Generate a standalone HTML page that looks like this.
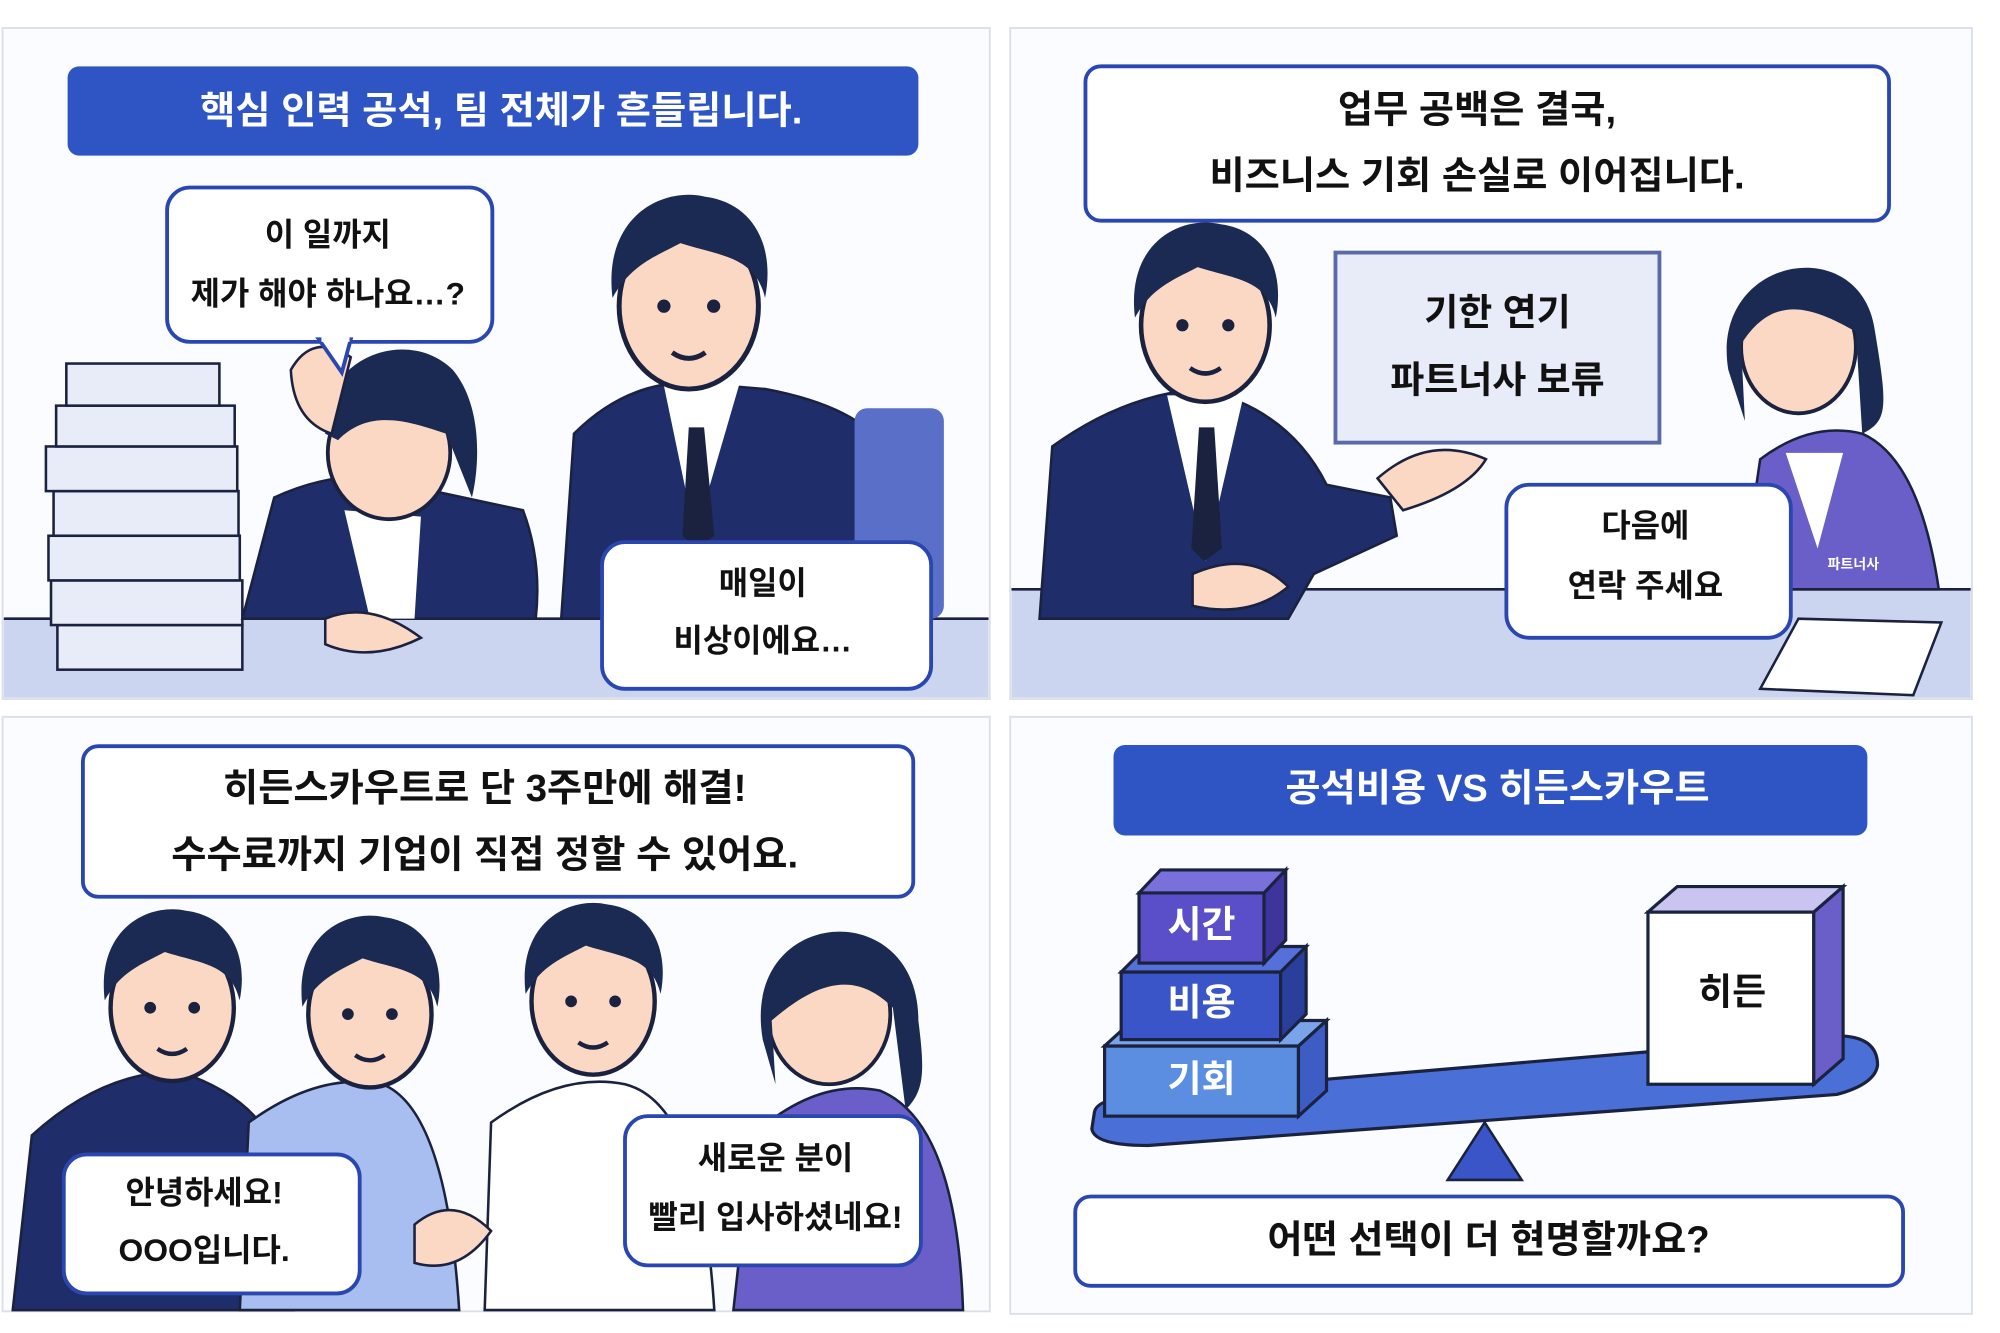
<!DOCTYPE html>
<html><head><meta charset="utf-8">
<style>
html,body{margin:0;padding:0;background:#fff;width:2000px;height:1333px;overflow:hidden}
svg{display:block}
text{font-family:"Liberation Sans","Noto Sans CJK KR",sans-serif;font-weight:bold;text-anchor:middle;dominant-baseline:middle}
</style></head><body>
<svg width="2000" height="1333" viewBox="0 0 1568 1045" preserveAspectRatio="none" xmlns="http://www.w3.org/2000/svg">
<defs>
<g id="head">
<ellipse cx="0" cy="0" rx="42" ry="50" fill="#fbd8c4" stroke="#1b2240" stroke-width="3"/>
<path d="M-46,-5 C-52,-55 -15,-72 10,-66 C40,-62 52,-35 46,-5 C40,-30 20,-30 -5,-38 C-20,-30 -35,-25 -46,-5Z" fill="#1b2a52"/>
<circle cx="-15" cy="0" r="4" fill="#1b2240"/><circle cx="15" cy="0" r="4" fill="#1b2240"/>
<path d="M-10,28 Q0,35 10,28" stroke="#1b2240" stroke-width="3" fill="none"/>
</g>
</defs>
<rect width="1568" height="1045" fill="#fff"/>
<rect x="2" y="22" width="774" height="526" fill="#fbfcff" stroke="#dcdfe8" stroke-width="1.5"/>
<rect x="792" y="22" width="754" height="526" fill="#fbfcff" stroke="#dcdfe8" stroke-width="1.5"/>
<rect x="2" y="562" width="774" height="466" fill="#fbfcff" stroke="#dcdfe8" stroke-width="1.5"/>
<rect x="792" y="562" width="754" height="468" fill="#fbfcff" stroke="#dcdfe8" stroke-width="1.5"/>

<!-- TL -->
<rect x="3" y="485" width="772" height="62" fill="#cbd5ef"/>
<line x1="3" y1="485" x2="775" y2="485" stroke="#1b2240" stroke-width="2"/>
<g fill="#e7ecf8" stroke="#1b2240" stroke-width="2">
<rect x="45" y="490" width="145" height="35"/><rect x="40" y="455" width="150" height="35"/><rect x="38" y="420" width="150" height="35"/><rect x="42" y="385" width="145" height="35"/><rect x="36" y="350" width="150" height="35"/><rect x="44" y="318" width="140" height="32"/><rect x="52" y="285" width="120" height="33"/>
</g>
<rect x="53" y="52" width="667" height="70" rx="9" fill="#2f55c4"/>
<text x="393" y="89" font-size="30" fill="#fff">핵심 인력 공석, 팀 전체가 흔들립니다.</text>
<path d="M190,485 L215,390 Q280,360 340,385 L410,400 Q425,440 420,485Z" fill="#1f2d6b" stroke="#1b2240" stroke-width="2"/>
<path d="M270,400 L290,485 L325,485 L330,405Z" fill="#fff"/>
<ellipse cx="305" cy="355" rx="48" ry="52" fill="#fbd8c4" stroke="#1b2240" stroke-width="3"/>
<path d="M255,340 C250,280 320,255 355,290 C380,320 375,370 370,390 L350,340 C320,330 290,320 265,345Z" fill="#1b2a52"/>
<path d="M228,290 Q245,260 275,280 L260,340 Q230,330 228,290Z" fill="#fbd8c4" stroke="#1b2240" stroke-width="2"/>
<path d="M255,485 Q290,470 330,500 Q290,520 255,505Z" fill="#fbd8c4" stroke="#1b2240" stroke-width="2"/>
<path d="M440,485 L450,340 Q490,300 540,300 L600,305 Q680,320 700,360 L720,485Z" fill="#1f2d6b" stroke="#1b2240" stroke-width="2"/>
<rect x="670" y="320" width="70" height="165" rx="10" fill="#5a6fc8"/>
<path d="M520,300 L545,420 L580,300Z" fill="#fff"/>
<path d="M540,335 L552,335 L560,420 L546,430 L535,420Z" fill="#1b2240"/>
<use href="#head" transform="translate(540,240) scale(1.3)"/>
<rect x="131" y="147" width="255" height="121" rx="18" fill="#fff" stroke="#2a46b0" stroke-width="3"/>
<path d="M250,266 L268,292 L275,266Z" fill="#fff" stroke="#2a46b0" stroke-width="3"/>
<rect x="252" y="262" width="22" height="6" fill="#fff"/>
<text x="257" y="186" font-size="25" fill="#111">이 일까지</text>
<text x="257" y="232" font-size="25" fill="#111">제가 해야 하나요…?</text>
<rect x="472" y="425" width="258" height="115" rx="18" fill="#fff" stroke="#2a46b0" stroke-width="3"/>
<text x="598" y="459" font-size="25" fill="#111">매일이</text>
<text x="598" y="504" font-size="25" fill="#111">비상이에요…</text>

<!-- TR -->
<rect x="793" y="462" width="752" height="85" fill="#cbd5ef"/>
<line x1="793" y1="462" x2="1545" y2="462" stroke="#1b2240" stroke-width="2"/>
<path d="M1380,540 L1410,485 L1522,488 L1500,545Z" fill="#fff" stroke="#1b2240" stroke-width="2"/>
<rect x="851" y="52" width="630" height="121" rx="12" fill="#fff" stroke="#2a46b0" stroke-width="3"/>
<text x="1158" y="88" font-size="30" fill="#111">업무 공백은 결국,</text>
<text x="1158" y="140" font-size="30" fill="#111">비즈니스 기회 손실로 이어집니다.</text>
<rect x="1047" y="198" width="254" height="149" fill="#e8ebf8" stroke="#5a6aa8" stroke-width="3"/>
<text x="1174" y="247" font-size="29" fill="#111">기한 연기</text>
<text x="1174" y="300" font-size="29" fill="#111">파트너사 보류</text>
<path d="M815,485 L825,350 Q880,310 940,305 Q1010,320 1040,380 L1090,390 L1095,420 L1030,450 L1010,485Z" fill="#1f2d6b" stroke="#1b2240" stroke-width="2"/>
<path d="M915,310 L945,440 L975,310Z" fill="#fff"/>
<path d="M940,335 L952,335 L958,430 L944,440 L934,430Z" fill="#1b2240"/>
<path d="M1080,375 Q1120,340 1165,360 Q1150,385 1100,400Z" fill="#fbd8c4" stroke="#1b2240" stroke-width="2"/>
<path d="M935,450 Q980,430 1010,460 Q980,485 935,475Z" fill="#fbd8c4" stroke="#1b2240" stroke-width="2"/>
<use href="#head" transform="translate(945,255) scale(1.2)"/>
<path d="M1365,462 L1380,360 Q1420,330 1460,340 Q1505,360 1520,462Z" fill="#6a5fc8" stroke="#1b2240" stroke-width="2"/>
<path d="M1400,355 L1425,430 L1445,355Z" fill="#fff"/>
<ellipse cx="1410" cy="272" rx="45" ry="52" fill="#fbd8c4" stroke="#1b2240" stroke-width="3"/>
<path d="M1355,290 C1340,200 1460,180 1470,260 C1480,320 1480,330 1460,340 L1455,260 C1420,240 1390,230 1365,270 L1368,330Z" fill="#1b2a52"/>
<text x="1453" y="443" font-size="11" fill="#fff">파트너사</text>
<rect x="1181" y="380" width="223" height="120" rx="18" fill="#fff" stroke="#2a46b0" stroke-width="3"/>
<text x="1290" y="414" font-size="25" fill="#111">다음에</text>
<text x="1290" y="461" font-size="25" fill="#111">연락 주세요</text>

<!-- BL -->
<rect x="65" y="585" width="651" height="118" rx="12" fill="#fff" stroke="#2a46b0" stroke-width="3"/>
<text x="380" y="620" font-size="30" fill="#111">히든스카우트로 단 3주만에 해결!</text>
<text x="380" y="672" font-size="30" fill="#111">수수료까지 기업이 직접 정할 수 있어요.</text>
<path d="M10,1027 L25,890 Q80,840 140,840 Q200,860 215,900 L230,1027Z" fill="#1f2d6b" stroke="#1b2240" stroke-width="2"/>
<path d="M188,1027 L195,880 Q250,840 300,850 Q350,870 360,1027Z" fill="#a8bdf0" stroke="#1b2240" stroke-width="2"/>
<path d="M380,1027 L385,880 Q440,840 490,850 Q550,865 560,1027Z" fill="#fff" stroke="#1b2240" stroke-width="2"/>
<path d="M575,1027 L590,890 Q640,845 690,855 Q750,880 755,1027Z" fill="#6a5fc8" stroke="#1b2240" stroke-width="2"/>
<path d="M325,960 Q355,935 385,965 Q360,1000 325,990Z" fill="#fbd8c4" stroke="#1b2240" stroke-width="2"/>
<use href="#head" transform="translate(135,790) scale(1.15)"/>
<use href="#head" transform="translate(290,795) scale(1.15)"/>
<use href="#head" transform="translate(465,785) scale(1.15)"/>
<ellipse cx="650" cy="795" rx="48" ry="55" fill="#fbd8c4" stroke="#1b2240" stroke-width="3"/>
<path d="M598,815 C580,710 720,700 720,800 C725,840 725,855 710,870 L700,790 C670,760 640,770 605,800 L608,850Z" fill="#1b2a52"/>
<rect x="50" y="905" width="232" height="109" rx="18" fill="#fff" stroke="#2a46b0" stroke-width="3"/>
<text x="160" y="937" font-size="25" fill="#111">안녕하세요!</text>
<text x="160" y="982" font-size="25" fill="#111">OOO입니다.</text>
<rect x="490" y="875" width="232" height="117" rx="18" fill="#fff" stroke="#2a46b0" stroke-width="3"/>
<text x="608" y="910" font-size="25" fill="#111">새로운 분이</text>
<text x="608" y="956" font-size="25" fill="#111">빨리 입사하셨네요!</text>

<!-- BR -->
<rect x="873" y="584" width="591" height="71" rx="9" fill="#2f55c4"/>
<text x="1174" y="620" font-size="30" fill="#fff">공석비용 VS 히든스카우트</text>
<path d="M858,872 Q860,860 900,858 L1440,812 Q1472,812 1472,835 Q1470,850 1440,858 L900,898 Q858,898 856,885Z" fill="#4a6fd6" stroke="#1b2240" stroke-width="2.5"/>
<path d="M1135,925 L1164,880 L1193,925Z" fill="#3a55c8" stroke="#1b2240" stroke-width="2"/>
<g stroke="#1b2240" stroke-width="2.5">
<rect x="866" y="820" width="152" height="55" fill="#5b8ee0"/><path d="M1018,820 L1040,800 L1040,855 L1018,875Z" fill="#3d5cc4"/><path d="M866,820 L888,800 L1040,800 L1018,820Z" fill="#7aa4ea"/>
<rect x="879" y="762" width="125" height="53" fill="#3a55c8"/><path d="M1004,762 L1024,742 L1024,795 L1004,815Z" fill="#2a3f9c"/><path d="M879,762 L899,742 L1024,742 L1004,762Z" fill="#5570d8"/>
<rect x="893" y="700" width="98" height="55" fill="#5a4fc8"/><path d="M991,700 L1008,682 L1008,737 L991,755Z" fill="#3e349c"/><path d="M893,700 L910,682 L1008,682 L991,700Z" fill="#7a70dc"/>
<rect x="1292" y="715" width="130" height="135" fill="#fff"/><path d="M1422,715 L1445,695 L1445,830 L1422,850Z" fill="#6a5fc8"/><path d="M1292,715 L1315,695 L1445,695 L1422,715Z" fill="#c9c4f0"/>
</g>
<text x="942" y="727" font-size="29" fill="#fff">시간</text>
<text x="942" y="788" font-size="29" fill="#fff">비용</text>
<text x="942" y="848" font-size="29" fill="#fff">기회</text>
<text x="1358" y="780" font-size="29" fill="#111">히든</text>
<rect x="843" y="938" width="649" height="70" rx="12" fill="#fff" stroke="#2a46b0" stroke-width="3"/>
<text x="1167" y="974" font-size="30" fill="#111">어떤 선택이 더 현명할까요?</text>
</svg>
</body></html>
